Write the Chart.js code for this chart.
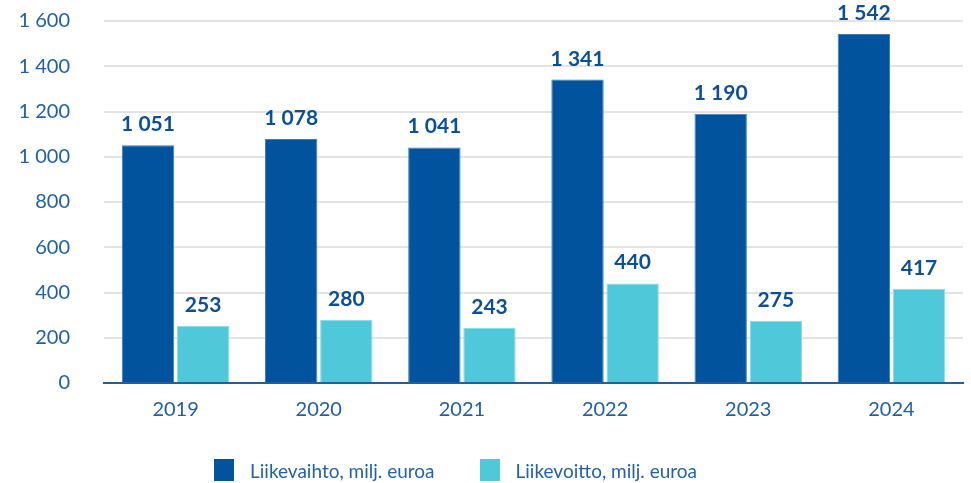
<!DOCTYPE html>
<html><head><meta charset="utf-8">
<script src="https://cdn.jsdelivr.net/npm/chart.js@4"></script>
<style>
html,body{margin:0;padding:0;background:#fff;}
#wrap{position:relative;width:971px;height:483px;}
#legend{position:absolute;left:214px;top:459px;display:flex;font-family:Lato,'Open Sans',sans-serif;font-size:19px;color:#2462A8;}
#legend .it{display:flex;align-items:center;margin-right:45px;height:22px;}
#legend .sw{width:20px;height:22px;margin-right:16px;}
</style>
</head><body><div id="wrap"><canvas id="c" width="971" height="483"></canvas><div id="legend"></div></div>
<script>
const categories = ["2019","2020","2021","2022","2023","2024"];
const liikevaihto = [1051,1078,1041,1341,1190,1542];
const liikevoitto = [253,280,243,440,275,417];
const seriesNames = ["Liikevaihto, milj. euroa","Liikevoitto, milj. euroa"];
const seriesColors = ["#00539C","#4FC9D9"];
const yTicks = [0,200,400,600,800,1000,1200,1400,1600];

const fmt = v => String(v).replace(/\B(?=(\d{3})+(?!\d))/g, "\u00a0");
const FONT = "Lato, 'Open Sans', sans-serif";
const labelPlugin = {
  id: 'vals',
  afterDatasetsDraw(chart) {
    const ctx = chart.ctx;
    ctx.save();
    ctx.font = "bold 21px " + FONT;
    ctx.fillStyle = "#0B4F96";
    ctx.textAlign = "center";
    ctx.textBaseline = "alphabetic";
    chart.data.datasets.forEach((ds, i) => {
      chart.getDatasetMeta(i).data.forEach((bar, j) => {
        ctx.fillText(fmt(ds.data[j]), bar.x, bar.y - 14);
      });
    });
    ctx.restore();
  }
};
const lg = document.getElementById('legend');
seriesNames.forEach((n, i) => {
  const it = document.createElement('div'); it.className = 'it';
  const sw = document.createElement('span'); sw.className = 'sw'; sw.style.background = seriesColors[i];
  const tx = document.createElement('span'); tx.textContent = n;
  it.appendChild(sw); it.appendChild(tx); lg.appendChild(it);
});
new Chart(document.getElementById('c'), {
  type: 'bar',
  data: {
    labels: categories,
    datasets: [
      {label: seriesNames[0], data: liikevaihto, backgroundColor: seriesColors[0], borderColor: "#3D7DBA", borderWidth: 1, categoryPercentage: 0.77, barPercentage: 0.95},
      {label: seriesNames[1], data: liikevoitto, backgroundColor: seriesColors[1], borderColor: "#8ADCE6", borderWidth: 1, categoryPercentage: 0.77, barPercentage: 0.95}
    ]
  },
  options: {
    responsive: false, animation: false,
    layout: {autoPadding: false, padding: {top: 21, right: 8, left: 18, bottom: 58}},
    plugins: {
      legend: {display: false},
      tooltip: {enabled: false}
    },
    scales: {
      x: {
        grid: {display: false, drawTicks: false},
        border: {display: true, color: "#1F5FA6", width: 2},
        ticks: {color: "#1F5FA6", font: {family: FONT, size: 20}, padding: 15, maxRotation: 0},
        afterFit: ax => { ax.height = 42; ax.paddingLeft = 0; ax.paddingRight = 0; }
      },
      y: {
        min: 0, max: 1600,
        afterBuildTicks: ax => { ax.ticks = yTicks.map(v => ({value: v})); },
        grid: {color: "#E3E3E3", lineWidth: 2, drawTicks: false},
        border: {display: false},
        ticks: {color: "#1F5FA6", font: {family: FONT, size: 20}, padding: 34, callback: v => fmt(v)},
        afterFit: ax => { ax.width = 86; ax.paddingTop = 0; ax.paddingBottom = 0; }
      }
    }
  },
  plugins: [labelPlugin]
});
</script></body></html>
